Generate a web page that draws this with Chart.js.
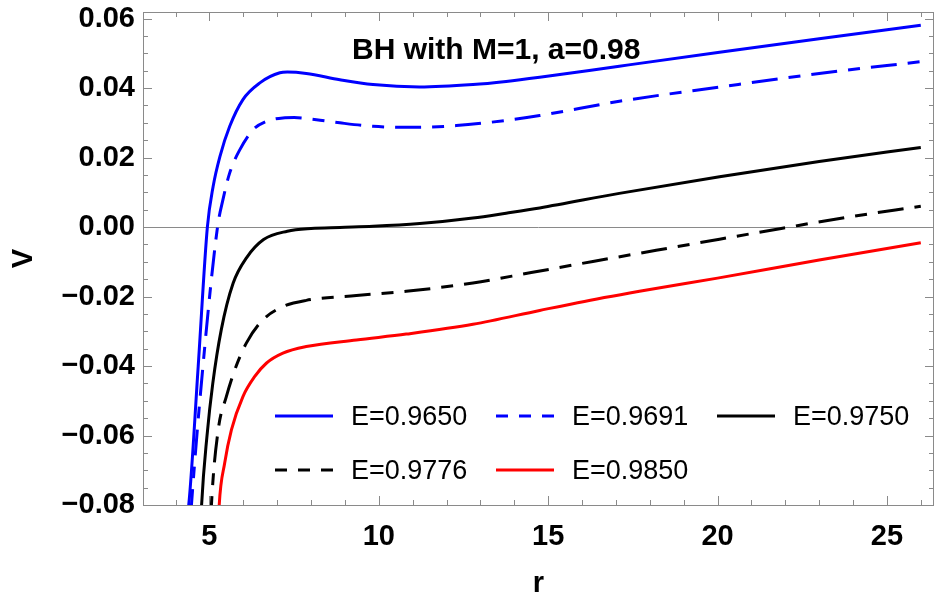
<!DOCTYPE html>
<html>
<head>
<meta charset="utf-8">
<script src="https://cdn.jsdelivr.net/npm/chart.js@4.4.1/dist/chart.umd.min.js"></script>
<style>
  html, body { margin: 0; padding: 0; background: #fff; }
  #wrap { width: 935px; height: 601px; }
</style>
</head>
<body>
<div id="wrap"><canvas id="potChart"></canvas></div>
<script>
// Effective potential V(r), BH with M=1, a=0.98

const energies = ['E=0.9650', 'E=0.9691', 'E=0.9750', 'E=0.9776', 'E=0.9850'];

const r9650 = [4.33, 4.39, 4.67, 4.94, 5.11, 5.31, 5.60, 5.99, 6.49, 7.08, 7.30, 7.86, 8.85, 9.83, 11.2, 12.78, 13.76, 14.75, 17.1, 20.06, 23.0, 26.0];
const v9650 = [-0.083, -0.080, -0.040, 0.000, 0.0117, 0.0203, 0.0290, 0.0367, 0.0415, 0.0444, 0.0446, 0.0442, 0.0424, 0.0410, 0.0403, 0.0410, 0.0419, 0.0431, 0.0463, 0.0503, 0.0542, 0.0581];

const r9691 = [4.45, 4.47, 4.81, 5.24, 5.40, 5.60, 5.90, 6.29, 6.68, 7.17, 7.50, 8.16, 8.85, 9.83, 11.0, 12.29, 13.76, 14.75, 17.1, 20.06, 23.0, 26.0];
const v9691 = [-0.083, -0.080, -0.040, 0.000, 0.0079, 0.0156, 0.0223, 0.0280, 0.0304, 0.0314, 0.0315, 0.0309, 0.0300, 0.0290, 0.0287, 0.0292, 0.0307, 0.0321, 0.0362, 0.0403, 0.0442, 0.0476];

const r9750 = [4.75, 4.77, 4.93, 5.10, 5.35, 5.70, 6.10, 6.60, 7.30, 8.00, 8.85, 9.83, 11.21, 12.78, 13.76, 14.75, 17.1, 20.06, 23.0, 26.0];
const v9750 = [-0.085, -0.080, -0.060, -0.045, -0.0296, -0.0162, -0.0088, -0.0036, -0.0012, -0.0004, -0.0001, 0.0002, 0.0010, 0.0026, 0.0040, 0.0055, 0.0097, 0.0145, 0.0189, 0.0229];

const r9776 = [5.04, 5.06, 5.26, 5.50, 5.75, 6.09, 6.58, 7.17, 7.86, 9.34, 10.81, 12.78, 14.5, 16.32, 18.19, 20.06, 21.88, 23.74, 26.0];
const v9776 = [-0.085, -0.080, -0.0584, -0.0488, -0.0411, -0.0334, -0.0267, -0.0229, -0.0211, -0.0197, -0.0185, -0.0161, -0.0131, -0.0099, -0.0067, -0.0035, -0.0004, 0.0027, 0.0060];

const r9850 = [5.27, 5.29, 5.45, 5.65, 5.99, 6.34, 6.68, 7.17, 7.86, 9.34, 10.81, 12.78, 14.75, 16.07, 18.0, 20.0, 23.0, 26.0];
const v9850 = [-0.085, -0.080, -0.068, -0.0584, -0.0488, -0.0430, -0.0392, -0.0363, -0.0344, -0.0325, -0.0308, -0.0280, -0.0240, -0.0214, -0.0180, -0.0147, -0.0095, -0.0045];

const xMajor = [5, 10, 15, 20, 25];
const xLabels = ['5', '10', '15', '20', '25'];
const yMajor = [-0.08, -0.06, -0.04, -0.02, 0, 0.02, 0.04, 0.06];
const yLabels = ['\u22120.08', '\u22120.06', '\u22120.04', '\u22120.02', '0.00', '0.02', '0.04', '0.06'];

const FONT = "'Liberation Sans', Arial, sans-serif";
const FRAME = '#8a8a8a';
const DASH = [26, 11, 12, 11];

const pts = (xs, ys) => xs.map((x, i) => ({ x: x, y: ys[i] }));

function majorIndex(list, v) {
    return list.findIndex(m => Math.abs(m - v) < 1e-9);
}

// Mathematica-like frame: inner ticks on all four sides, axis line at V=0, title, legend
const framePlugin = {
    id: 'frame',
    beforeDatasetsDraw(chart) {
        const { ctx, chartArea: a, scales } = chart;
        const y0 = Math.round(scales.y.getPixelForValue(0)) + 0.5;
        ctx.save();
        ctx.strokeStyle = FRAME;
        ctx.lineWidth = 1;
        ctx.beginPath();
        ctx.moveTo(a.left, y0);
        ctx.lineTo(a.right, y0);
        ctx.stroke();
        ctx.restore();
    },
    afterDraw(chart) {
        const { ctx, chartArea: a, scales } = chart;
        ctx.save();
        ctx.strokeStyle = FRAME;
        ctx.lineWidth = 1;
        ctx.strokeRect(a.left + 0.5, a.top + 0.5, a.right - a.left - 1, a.bottom - a.top);

        ctx.beginPath();
        scales.x.ticks.forEach(t => {
            if (t.value < scales.x.min || t.value > scales.x.max) return;
            const px = Math.round(scales.x.getPixelForValue(t.value)) + 0.5;
            const len = majorIndex(xMajor, t.value) >= 0 ? 9 : 5;
            ctx.moveTo(px, a.bottom); ctx.lineTo(px, a.bottom - len);
            ctx.moveTo(px, a.top); ctx.lineTo(px, a.top + len);
        });
        scales.y.ticks.forEach(t => {
            if (t.value < scales.y.min - 1e-9 || t.value > scales.y.max) return;
            const py = Math.round(scales.y.getPixelForValue(t.value)) + 0.5;
            const len = majorIndex(yMajor, t.value) >= 0 ? 9 : 5;
            ctx.moveTo(a.left, py); ctx.lineTo(a.left + len, py);
            ctx.moveTo(a.right, py); ctx.lineTo(a.right - len, py);
        });
        ctx.stroke();

        // plot label
        ctx.fillStyle = '#000';
        ctx.font = 'bold 30px ' + FONT;
        ctx.textAlign = 'left';
        ctx.textBaseline = 'alphabetic';
        ctx.fillText('BH with M=1, a=0.98', 352, 59);

        // legend, 3 columns x 2 rows inside the plot
        const colX = [275, 496, 717];
        const rowY = [416, 470];
        ctx.font = '27px ' + FONT;
        chart.data.datasets.forEach((ds, i) => {
            const x0 = colX[i % 3];
            const y = rowY[Math.floor(i / 3)];
            ctx.strokeStyle = ds.borderColor;
            ctx.lineWidth = ds.borderWidth;
            ctx.setLineDash(ds.borderDash || []);
            ctx.lineDashOffset = 14;
            ctx.beginPath();
            ctx.moveTo(x0, y);
            ctx.lineTo(x0 + 58, y);
            ctx.stroke();
            ctx.setLineDash([]);
            ctx.fillText(ds.label, x0 + 76, y + 9);
        });
        ctx.restore();
    }
};

const lineStyle = { borderWidth: 3, pointRadius: 0, fill: false, cubicInterpolationMode: 'monotone', clip: 0 };

new Chart(document.getElementById('potChart'), {
    type: 'line',
    data: {
        datasets: [
            { ...lineStyle, label: energies[0], data: pts(r9650, v9650), borderColor: '#0000ff' },
            { ...lineStyle, label: energies[1], data: pts(r9691, v9691), borderColor: '#0000ff', borderDash: DASH },
            { ...lineStyle, label: energies[2], data: pts(r9750, v9750), borderColor: '#000000' },
            { ...lineStyle, label: energies[3], data: pts(r9776, v9776), borderColor: '#000000', borderDash: DASH },
            { ...lineStyle, label: energies[4], data: pts(r9850, v9850), borderColor: '#ff0000' }
        ]
    },
    options: {
        responsive: true,
        maintainAspectRatio: false,
        animation: false,
        layout: { padding: { top: 12, right: 1, left: 0, bottom: 0 } },
        plugins: { legend: { display: false }, tooltip: { enabled: false } },
        scales: {
            x: {
                type: 'linear',
                min: 3.04,
                max: 26.39,
                grid: { display: false, drawTicks: false },
                border: { display: false },
                afterBuildTicks: s => {
                    s.ticks = [];
                    for (let r = 4; r <= 26; r++) s.ticks.push({ value: r });
                },
                afterFit: s => { s.height = 96; s.paddingLeft = 0; s.paddingRight = 0; },
                ticks: {
                    autoSkip: false,
                    maxRotation: 0,
                    padding: 15,
                    color: '#000',
                    font: { family: FONT, size: 29, weight: 'bold' },
                    callback: v => { const k = majorIndex(xMajor, v); return k >= 0 ? xLabels[k] : ''; }
                },
                title: {
                    display: true,
                    text: 'r',
                    color: '#000',
                    font: { family: FONT, size: 29, weight: 'bold' },
                    padding: { top: 0, bottom: 0 }
                }
            },
            y: {
                type: 'linear',
                min: -0.08,
                max: 0.0619,
                grid: { display: false, drawTicks: false },
                border: { display: false },
                afterBuildTicks: s => {
                    s.ticks = [];
                    for (let k = -16; k <= 12; k++) s.ticks.push({ value: Math.round(k * 5) / 1000 });
                },
                afterFit: s => { s.width = 143; s.paddingTop = 0; s.paddingBottom = 0; },
                ticks: {
                    autoSkip: false,
                    padding: 8,
                    color: '#000',
                    font: { family: FONT, size: 29, weight: 'bold' },
                    callback: v => { const k = majorIndex(yMajor, v); return k >= 0 ? yLabels[k] : ''; }
                },
                title: {
                    display: true,
                    text: 'V',
                    color: '#000',
                    font: { family: FONT, size: 29, weight: 'bold' },
                    padding: { top: 7, bottom: 0 }
                }
            }
        }
    },
    plugins: [framePlugin]
});
</script>
</body>
</html>
